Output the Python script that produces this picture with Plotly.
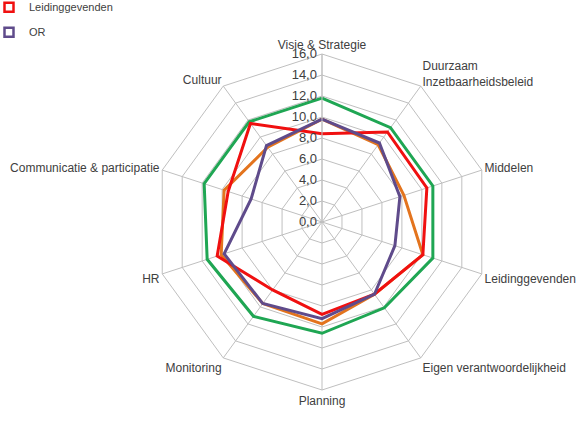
import plotly.graph_objects as go

categories = ["Visie & Strategie", "Duurzaam Inzetbaarheidsbeleid", "Middelen",
              "Leidinggevenden", "Eigen verantwoordelijkheid", "Planning",
              "Monitoring", "HR", "Communicatie & participatie", "Cultuur"]
category_labels = ["Visie & Strategie", "Duurzaam<br>Inzetbaarheidsbeleid", "Middelen",
                   "Leidinggevenden", "Eigen verantwoordelijkheid", "Planning",
                   "Monitoring", "HR", "Communicatie & participatie", "Cultuur"]

green_vals = [11.8, 11.1, 11.1, 11.1, 10.1, 10.6, 11.1, 11.5, 11.8, 11.8]
orange_vals = [9.8, 9.1, 8.2, 10.1, 8.5, 9.7, 9.6, 10.1, 9.8, 8.8]
leiding_vals = [8.4, 10.6, 10.5, 10.1, 8.5, 8.8, 8.0, 10.5, 9.4, 11.6]
or_vals = [9.8, 9.3, 7.8, 7.3, 8.5, 9.2, 9.6, 9.8, 7.1, 9.0]

series = [
    ("Reeks 1", green_vals, "#1FA653", False),
    ("Reeks 2", orange_vals, "#E3741E", False),
    ("Leidinggevenden", leiding_vals, "#F01010", True),
    ("OR", or_vals, "#5F4B8B", True),
]

fig = go.Figure()
for name, vals, color, show in series:
    fig.add_trace(go.Scatterpolar(
        r=vals + vals[:1], theta=categories + categories[:1],
        mode="lines", name=name, line=dict(color=color, width=3),
        showlegend=False, hoverinfo="r+theta"))

for name, vals, color, show in series:
    if show:
        fig.add_trace(go.Scatterpolar(
            r=[None], theta=[categories[0]], mode="markers", name=name,
            legendgroup=name,
            marker=dict(symbol="square-open", size=9, color=color,
                        line=dict(color=color, width=2.5)),
            showlegend=True))

grid = "#BFBFBF"
fig.update_layout(
    width=579, height=432,
    margin=dict(l=0, r=0, t=0, b=0, autoexpand=False),
    paper_bgcolor="white",
    separators=",.",
    font=dict(family="Liberation Sans, Arial, sans-serif", size=12, color="#404040"),
    polar=dict(
        domain=dict(x=[0.266, 0.8463], y=[0.0972, 0.875]),
        bgcolor="white",
        gridshape="linear",
        angularaxis=dict(
            type="category", categoryarray=categories, categoryorder="array",
            rotation=90, direction="clockwise",
            tickvals=categories, ticktext=category_labels,
            showline=True, linecolor=grid, linewidth=1,
            gridcolor=grid, gridwidth=1, ticks="",
            tickfont=dict(size=12, color="#404040"),
        ),
        radialaxis=dict(
            range=[0, 16], dtick=2, tick0=0, tickformat=".1f",
            angle=90, tickangle=90, side="counterclockwise",
            showline=True, linecolor=grid, linewidth=1,
            gridcolor=grid, gridwidth=1, ticks="",
            tickfont=dict(size=13, color="#404040"),
        ),
    ),
    legend=dict(x=-0.019, y=1.017, xanchor="left", yanchor="top",
                bgcolor="rgba(0,0,0,0)", font=dict(size=11, color="#404040"),
                tracegroupgap=6, traceorder="grouped"),
)

fig.write_html("out.html", config={"displayModeBar": False},
               post_script="document.body.style.margin='0';")
